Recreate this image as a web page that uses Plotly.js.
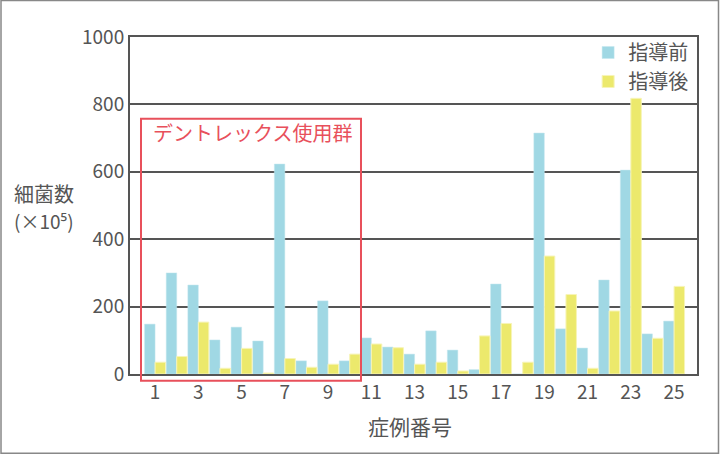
<!DOCTYPE html>
<html>
<head>
<meta charset="utf-8">
<script src="https://cdn.plot.ly/plotly-3.0.1.min.js"></script>
<style>
  body { margin: 0; background: #fff; }
  #chart { width: 720px; height: 455px; }
</style>
</head>
<body>
<div id="chart"></div>
<script>
// 症例番号 1..25
var cases = [];
for (var i = 1; i <= 25; i++) cases.push(i);

var beforeVals = [148, 300, 264, 101, 139, 98, 623, 39, 217, 39, 107, 80, 59,
                  128, 71, 13, 267, 0, 715, 134, 77, 279, 605, 119, 157];
var afterVals = [35, 52, 154, 17, 76, 3, 46, 20, 29, 59, 89, 78, 29,
                 35, 9, 113, 150, 35, 350, 236, 17, 187, 818, 106, 260];

var tickVals = [1, 3, 5, 7, 9, 11, 13, 15, 17, 19, 21, 23, 25];
var yTicks = [0, 200, 400, 600, 800, 1000];

var fontFam = '"Noto Sans CJK JP", "Noto Sans", sans-serif';
var gray = '#555555';
var red = '#e8505b';

var data = [{
  type: 'bar',
  name: '指導前',
  x: cases,
  y: beforeVals,
  marker: { color: '#a0d8e4', line: { color: '#c4e7ee', width: 0.5 } }
}, {
  type: 'bar',
  name: '指導後',
  x: cases,
  y: afterVals,
  marker: { color: '#ece96c', line: { color: '#f7f4b8', width: 1 } }
}];

var layout = {
  width: 720,
  height: 455,
  margin: { l: 130, r: 23, t: 37, b: 81 },
  paper_bgcolor: '#ffffff',
  plot_bgcolor: '#ffffff',
  font: { family: fontFam, color: gray, size: 19 },
  barmode: 'group',
  bargap: 0.03,
  bargroupgap: 0,
  showlegend: true,
  legend: {
    x: 0.808, y: 1.012, xanchor: 'left', yanchor: 'top',
    bgcolor: 'rgba(0,0,0,0)',
    font: { size: 20, color: gray },
    tracegroupgap: 0
  },
  xaxis: {
    range: [-0.16, 26.06],
    tickvals: tickVals,
    ticktext: tickVals.map(String),
    ticks: '',
    showgrid: false,
    zeroline: false,
    showline: true,
    mirror: true,
    linecolor: gray,
    linewidth: 2,
    tickfont: { size: 19, color: gray }
  },
  yaxis: {
    range: [0, 1000],
    tickvals: yTicks,
    ticks: '',
    showgrid: true,
    gridcolor: gray,
    gridwidth: 2,
    zeroline: false,
    showline: true,
    mirror: true,
    linecolor: gray,
    linewidth: 2,
    tickfont: { size: 19, color: gray }
  },
  shapes: [{
    type: 'rect', xref: 'paper', yref: 'paper',
    x0: 0.0194, x1: 0.4074, y0: -0.0199, y1: 0.7576,
    line: { color: red, width: 2 }
  }, {
    type: 'rect', xref: 'paper', yref: 'paper',
    x0: -0.2275, x1: 1.0379, y0: -0.2355, y1: 1.108,
    line: { color: '#888888', width: 1.5 }
  }],
  annotations: [{
    text: 'デントレックス使用群',
    xref: 'paper', yref: 'paper',
    x: 0.037, y: 0.716, xanchor: 'left', yanchor: 'middle',
    showarrow: false,
    font: { size: 20, color: red }
  }, {
    text: '細菌数',
    xref: 'paper', yref: 'paper',
    x: -0.151, y: 0.536, xanchor: 'center', yanchor: 'middle',
    showarrow: false, borderpad: 0,
    font: { size: 20, color: gray }
  }, {
    text: '(×10⁵)',
    xref: 'paper', yref: 'paper',
    x: -0.151, y: 0.456, xanchor: 'center', yanchor: 'middle',
    showarrow: false, borderpad: 0,
    font: { size: 19, color: gray }
  }, {
    text: '症例番号',
    xref: 'paper', yref: 'paper',
    x: 0.494, y: -0.153, xanchor: 'center', yanchor: 'middle',
    showarrow: false,
    font: { size: 21, color: gray }
  }]
};

Plotly.newPlot('chart', data, layout, { displayModeBar: false });
</script>
</body>
</html>
